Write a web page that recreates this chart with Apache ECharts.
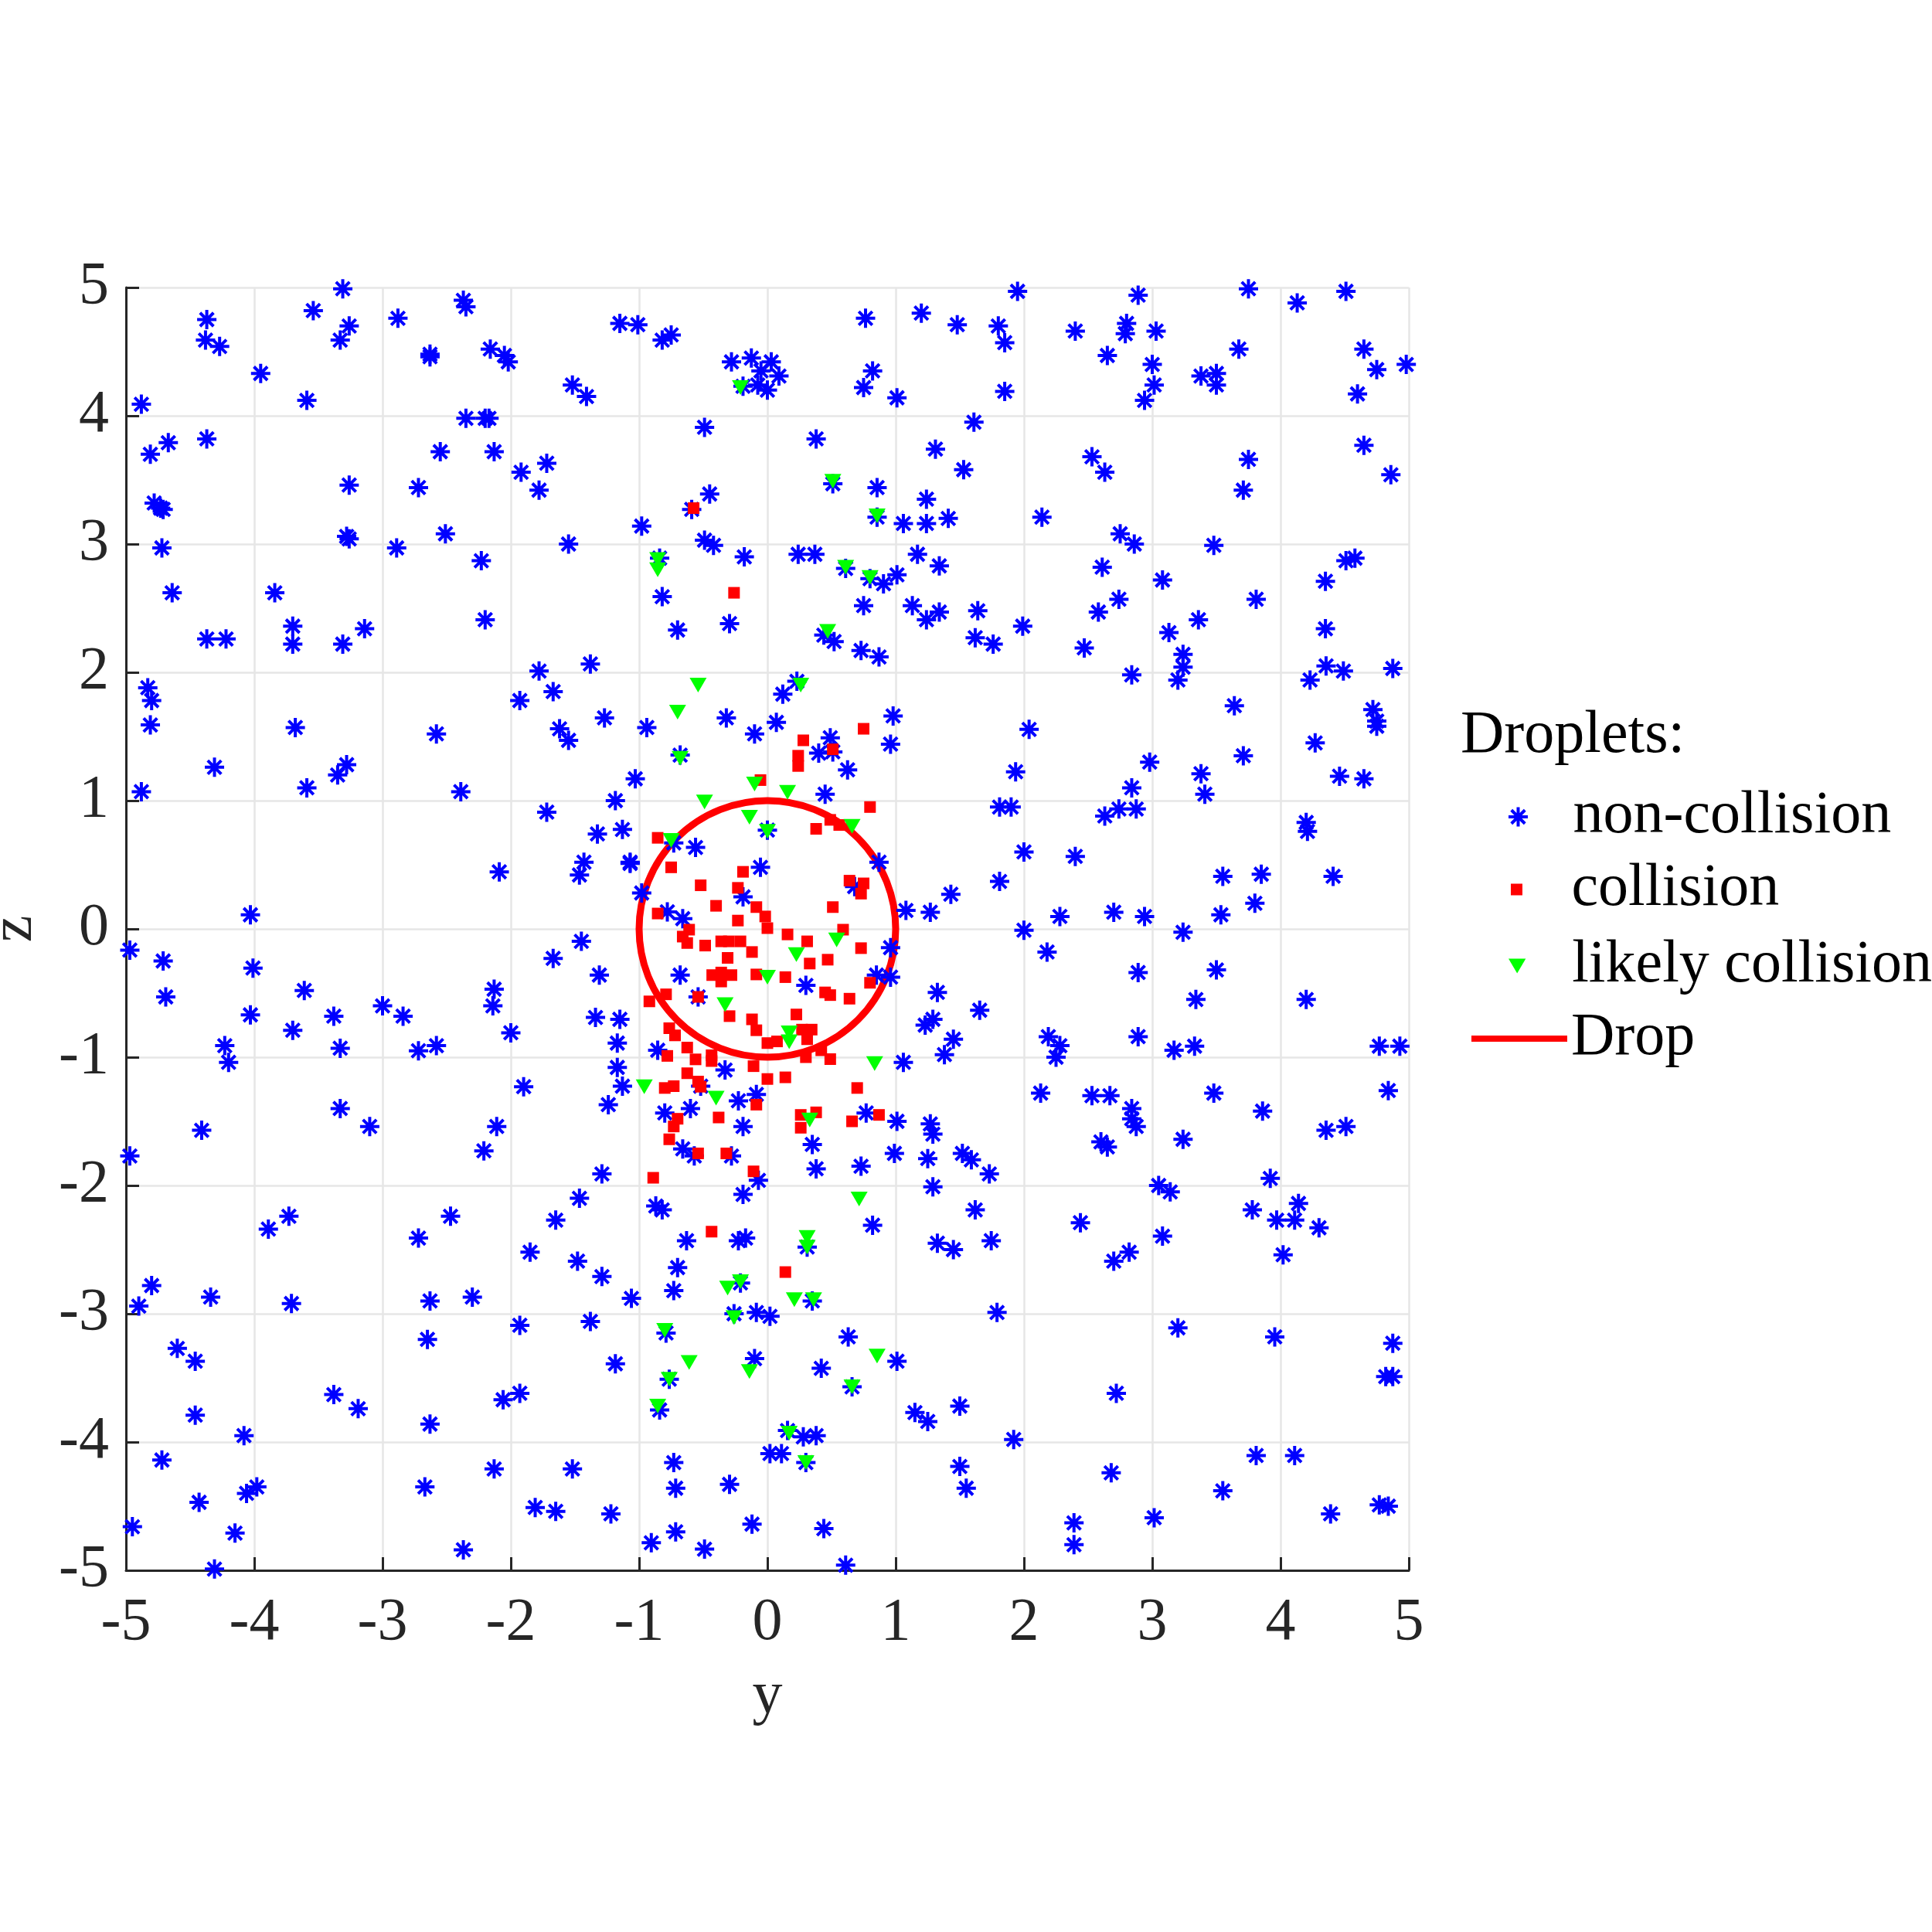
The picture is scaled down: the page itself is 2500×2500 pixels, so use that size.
<!DOCTYPE html>
<html>
<head>
<meta charset="utf-8">
<script src="https://cdn.jsdelivr.net/npm/echarts@6/dist/echarts.min.js"></script>
<style>
html,body{margin:0;padding:0;background:#fff;}
#chart{width:2500px;height:2500px;}
</style>
</head>
<body>
<div id="chart"></div>
<script>
// Axis range
const axisMin = -5, axisMax = 5, axisStep = 1;

// Droplets: [y, z]
const nonCollision = [
[-4.37,4.75],[-4.38,4.59],[-4.27,4.54],[-3.95,4.33],[-4.88,4.09],[-3.59,4.12],[-3.54,4.82],[-3.31,4.99],[-3.26,4.70],[-3.33,4.59],[-2.88,4.76],[-2.63,4.48],[-2.63,4.46],[-2.37,4.90],[-2.35,4.85],[-2.16,4.52],[-2.05,4.47],[-2.02,4.42],[-2.35,3.98],[-2.20,3.98],[-2.17,3.98],[-4.67,3.79],[-4.81,3.70],[-4.37,3.82],[-2.55,3.72],[-2.13,3.72],[-1.92,3.56],[-1.72,3.63],[-1.78,3.42],[-3.26,3.46],[-2.72,3.44],[-4.78,3.32],[-4.73,3.28],[-4.71,3.27],[-3.28,3.06],[-3.26,3.04],[-2.51,3.08],[-2.89,2.97],[-4.72,2.97],[-2.23,2.87],[-4.64,2.62],[-3.84,2.62],[-3.70,2.36],[-3.70,2.22],[-4.37,2.26],[-4.22,2.26],[-3.31,2.22],[-3.14,2.34],[-2.20,2.41],[-1.78,2.01],[-1.93,1.78],[-1.67,1.85],[-4.83,1.88],[-4.80,1.78],
[-4.81,1.59],[-3.68,1.57],[-2.58,1.52],[-4.31,1.26],[-4.88,1.07],[-3.59,1.10],[-3.35,1.20],[-3.28,1.28],[-2.39,1.07],[-1.72,0.91],[-2.09,0.445],[-4.03,0.11],[-4.97,-0.165],[-4.71,-0.25],[-4.01,-0.305],[-4.69,-0.53],[-3.61,-0.48],[-4.03,-0.67],[-3.70,-0.79],[-3.38,-0.68],[-3.33,-0.93],[-3.0,-0.60],[-2.84,-0.68],[-2.72,-0.95],[-2.58,-0.91],[-2.13,-0.47],[-2.14,-0.60],[-2.00,-0.81],[-1.67,-0.23],[-4.23,-0.91],[-4.20,-1.04],[-1.90,-1.23],[-3.33,-1.40],[-3.10,-1.54],[-4.41,-1.57],[-2.11,-1.54],
[-4.97,-1.77],[-2.21,-1.73],[-3.89,-2.34],[-3.73,-2.24],[-2.72,-2.41],[-2.47,-2.24],[-1.85,-2.52],[-1.65,-2.27],[-4.80,-2.78],[-4.90,-2.94],[-4.34,-2.87],[-3.71,-2.92],[-2.63,-2.90],[-2.30,-2.87],[-1.93,-3.09],[-2.65,-3.20],[-4.60,-3.27],[-4.46,-3.37],[-3.38,-3.63],[-3.19,-3.74],[-4.46,-3.79],[-4.08,-3.95],[-2.63,-3.86],[-2.06,-3.67],[-1.93,-3.62],[-4.72,-4.14],[-4.43,-4.47],[-4.06,-4.40],[-3.98,-4.35],[-4.95,-4.66],[-4.15,-4.71],[-4.31,-4.99],[-2.67,-4.35],[-2.13,-4.21],[-2.37,-4.84],[-1.81,-4.51],[-1.65,-4.54],
[-1.15,4.72],[-1.01,4.71],[-0.82,4.59],[-0.75,4.63],[-1.52,4.24],[-1.41,4.15],[-0.28,4.42],[-0.125,4.45],[0.03,4.42],[-0.05,4.35],[0.09,4.31],[-0.075,4.24],[0.0,4.20],[-0.19,4.23],[0.765,4.76],[1.20,4.80],[1.48,4.71],[0.82,4.35],[0.75,4.22],[1.01,4.14],[-0.49,3.91],[0.38,3.82],[1.61,3.95],[1.31,3.74],[1.53,3.58],[0.51,3.47],[0.855,3.44],[1.24,3.35],[-0.45,3.39],[-0.59,3.27],[-0.98,3.14],[0.855,3.21],[1.06,3.16],[1.24,3.16],[1.41,3.20],[-1.55,3.00],[-0.49,3.03],[-0.42,2.99],[-0.18,2.90],[0.24,2.92],[0.37,2.92],[1.17,2.92],[1.34,2.83],[-0.84,2.89],[-0.82,2.59],[0.61,2.81],[0.80,2.73],[0.905,2.69],[1.01,2.76],[0.75,2.52],[1.13,2.52],[1.24,2.41],[1.34,2.47],[1.64,2.48],[1.62,2.27],[-0.70,2.33],[-0.295,2.38],[0.44,2.29],[0.52,2.24],[0.73,2.17],[0.87,2.12],[-1.38,2.065],[0.23,1.93],[0.12,1.83],
[-1.62,1.56],[-1.55,1.47],[-1.27,1.645],[-0.94,1.57],[-0.32,1.645],[-0.10,1.52],[0.07,1.61],[0.98,1.66],[0.96,1.44],[0.49,1.49],[0.40,1.37],[0.51,1.38],[0.625,1.24],[-0.68,1.355],[-1.03,1.17],[0.45,1.05],[-1.185,1.00],[0.0,0.77],[-1.325,0.74],[-1.13,0.775],[-0.73,0.67],[-0.56,0.635],[-1.43,0.52],[-1.465,0.42],[-1.07,0.52],[-1.07,0.51],[0.87,0.52],[-0.054,0.48],[-0.19,0.25],[-0.98,0.28],[0.68,0.33],[1.43,0.27],[1.08,0.144],[1.27,0.13],[-0.78,0.133],[-0.66,0.08],[0.96,-0.146],[-1.45,-0.097],[-1.31,-0.36],[-0.68,-0.36],[0.30,-0.44],[0.85,-0.36],[0.96,-0.376],[-0.54,-0.53],[1.325,-0.495],[1.655,-0.634],[-1.34,-0.69],[-1.15,-0.705],[1.23,-0.75],[1.29,-0.705],[1.45,-0.86],[1.38,-0.98],[-1.17,-0.89],[-0.855,-0.946],[1.06,-1.04],[-1.17,-1.08],[-0.33,-1.10],[-1.13,-1.226],[-0.52,-1.226],[-1.24,-1.37],[-0.80,-1.435],[-0.60,-1.40],[-0.226,-1.34],[-0.086,-1.29],[-0.19,-1.54],[0.77,-1.435],[1.01,-1.50],[1.27,-1.52],[1.29,-1.60],
[-0.66,-1.715],[-0.57,-1.77],[-0.28,-1.77],[-0.07,-1.96],[-1.29,-1.91],[0.35,-1.68],[0.38,-1.87],[0.73,-1.85],[0.99,-1.75],[1.25,-1.79],[1.52,-1.75],[1.59,-1.80],[1.29,-2.01],[1.62,-2.19],[-1.465,-2.10],[-0.87,-2.16],[-0.82,-2.19],[-0.19,-2.07],[0.82,-2.31],[-0.63,-2.43],[-0.226,-2.43],[-0.17,-2.41],[0.31,-2.48],[1.325,-2.45],[1.45,-2.50],[-1.48,-2.59],[-1.29,-2.71],[-0.70,-2.64],[-0.73,-2.82],[-1.06,-2.88],[-0.21,-2.76],[0.35,-2.90],[-1.38,-3.06],[-0.26,-3.00],[-0.086,-2.99],[0.02,-3.02],[-0.79,-3.15],[0.63,-3.18],[-1.185,-3.39],[-0.10,-3.35],[0.42,-3.425],[1.01,-3.37],[-0.765,-3.51],[0.66,-3.57],[-0.84,-3.75],[1.15,-3.77],[1.25,-3.84],[1.50,-3.72],[0.157,-3.91],[0.28,-3.96],[0.38,-3.95],[0.02,-4.09],[0.11,-4.09],[0.30,-4.16],[-1.52,-4.21],[-0.73,-4.16],[-0.715,-4.36],[-0.295,-4.33],[1.50,-4.19],[1.55,-4.36],[-1.22,-4.56],[-0.12,-4.64],[0.44,-4.675],[-0.905,-4.785],[-0.715,-4.70],[-0.49,-4.835],[0.61,-4.96],
[1.95,4.97],[2.89,4.94],[3.75,4.99],[4.51,4.97],[4.13,4.88],[1.80,4.70],[1.85,4.57],[2.40,4.66],[2.80,4.72],[2.79,4.64],[3.03,4.66],[2.65,4.47],[3.00,4.40],[3.015,4.24],[2.94,4.12],[1.85,4.19],[3.38,4.31],[3.50,4.33],[3.50,4.24],[3.675,4.52],[4.65,4.52],[4.75,4.36],[4.98,4.40],[4.60,4.17],[4.65,3.77],[4.86,3.54],[3.75,3.66],[3.71,3.42],[2.53,3.68],[2.63,3.56],[2.14,3.21],[2.75,3.08],[2.86,3.00],[3.48,2.99],[2.61,2.82],[3.08,2.72],[4.51,2.87],[4.58,2.89],[4.35,2.71],[2.74,2.57],[2.58,2.47],[3.81,2.57],[3.36,2.41],[3.13,2.31],[4.35,2.34],[1.99,2.36],[1.76,2.22],[2.47,2.19],[3.24,2.14],[3.24,2.04],[3.20,1.94],[2.84,1.98],[4.23,1.94],[4.355,2.05],[4.49,2.01],[4.875,2.03],[3.64,1.74],[4.72,1.71],
[4.75,1.62],[4.75,1.58],[2.04,1.555],[1.935,1.225],[2.98,1.30],[2.84,1.10],[3.38,1.21],[3.41,1.05],[3.71,1.35],[4.27,1.45],[4.46,1.19],[4.65,1.17],[1.81,0.95],[1.90,0.95],[2.63,0.88],[2.74,0.935],[2.875,0.935],[4.20,0.83],[4.21,0.76],[2.00,0.60],[2.40,0.565],[1.81,0.37],[3.55,0.41],[3.85,0.426],[4.41,0.41],[3.80,0.20],[3.535,0.11],[2.28,0.097],[2.70,0.13],[2.94,0.097],[2.00,-0.01],[3.24,-0.026],[2.18,-0.18],[2.89,-0.34],[3.50,-0.32],[3.34,-0.55],[4.20,-0.55],[2.89,-0.84],[2.19,-0.84],[2.28,-0.91],[2.25,-1.0],[3.17,-0.946],[3.33,-0.914],[4.77,-0.914],[4.93,-0.914],[2.13,-1.28],[2.53,-1.30],[2.67,-1.30],[2.84,-1.40],[2.84,-1.48],[2.875,-1.54],[3.48,-1.28],[3.86,-1.42],[4.84,-1.26],[4.355,-1.57],[4.51,-1.54],
[2.60,-1.66],[2.65,-1.70],[3.24,-1.64],[1.73,-1.91],[1.745,-2.43],[2.44,-2.29],[2.70,-2.59],[2.82,-2.52],[3.05,-2.00],[3.14,-2.05],[3.08,-2.395],[3.92,-1.945],[3.78,-2.19],[3.97,-2.27],[4.11,-2.27],[4.14,-2.14],[4.30,-2.33],[4.02,-2.54],[1.79,-2.99],[3.20,-3.11],[3.955,-3.18],[4.875,-3.23],[4.82,-3.49],[4.875,-3.49],[2.72,-3.62],[1.92,-3.98],[3.81,-4.105],[4.11,-4.105],[2.68,-4.24],[3.55,-4.38],[2.39,-4.63],[2.39,-4.80],[3.015,-4.59],[4.39,-4.56],[4.77,-4.49],[4.84,-4.50]
];

const collision = [
[-0.575,3.28],[-0.26,2.62],
[0.75,1.56],[0.28,1.47],[0.51,1.40],[0.24,1.35],[0.24,1.27],[-0.054,1.16],[0.80,0.95],[0.49,0.85],[0.56,0.81],[0.38,0.78],[-0.855,0.71],[-0.75,0.48],[-0.19,0.445],[-0.52,0.34],[-0.23,0.32],[0.64,0.376],[0.75,0.355],[0.73,0.275],[-0.40,0.18],[-0.086,0.17],[-0.017,0.097],[0.0,0.006],[0.51,0.17],[-0.855,0.12],[-0.23,0.065],[-0.61,-0.006],[-0.66,-0.06],[-0.625,-0.11],[0.157,-0.043],[-0.485,-0.13],[-0.36,-0.097],[-0.30,-0.097],[-0.21,-0.097],[0.31,-0.097],[0.59,-0.006],[-0.12,-0.18],[0.73,-0.15],[-0.31,-0.226],[0.33,-0.27],[0.47,-0.24],[-0.43,-0.36],[-0.36,-0.34],[-0.36,-0.41],[-0.28,-0.36],[-0.086,-0.355],[0.14,-0.376],[0.80,-0.42],[-0.79,-0.51],[-0.92,-0.565],[-0.54,-0.53],[0.45,-0.495],[0.49,-0.516],[0.64,-0.544],[-0.295,-0.68],[-0.12,-0.705],[-0.086,-0.79],[0.226,-0.667],[0.27,-0.785],[0.345,-0.785],[0.31,-0.86],[-0.765,-0.774],[-0.72,-0.83],[0.0,-0.89],[0.075,-0.877],[-0.625,-0.925],[-0.78,-0.99],[-0.56,-1.017],[-0.435,-0.985],[-0.435,-1.03],[0.30,-1.0],[0.42,-0.946],[0.49,-1.015],[-0.108,-1.07],[-0.625,-1.125],[-0.80,-1.24],[-0.73,-1.226],[-0.54,-1.19],[-0.52,-1.23],[0.0,-1.17],[0.14,-1.157],[0.70,-1.24],[-0.086,-1.37],[-0.38,-1.47],[-0.70,-1.48],[-0.73,-1.54],[-0.765,-1.64],[0.26,-1.45],[0.38,-1.43],[0.26,-1.55],[0.66,-1.50],[0.87,-1.45],
[-0.54,-1.75],[-0.32,-1.75],[-0.108,-1.89],[-0.89,-1.94],[-0.435,-2.36],[0.14,-2.675]
];

const likelyCollision = [
[-0.21,4.22],[0.51,3.49],[0.855,3.22],[-0.855,2.88],[-0.855,2.80],[0.61,2.82],[0.80,2.74],[0.47,2.32],[-0.54,1.90],[0.26,1.90],
[-0.70,1.69],[-0.68,1.33],[-0.10,1.13],[0.157,1.065],[-0.49,0.99],[-0.14,0.87],[0.0,0.76],[0.66,0.80],[-0.75,0.69],[0.54,-0.086],[0.226,-0.20],[0.0,-0.376],[-0.33,-0.59],[0.17,-0.81],[0.17,-0.88],[0.836,-1.05],[-0.96,-1.23],[-0.40,-1.32],[0.33,-1.49],
[0.715,-2.105],[0.31,-2.405],[0.31,-2.48],[-0.31,-2.80],[-0.21,-2.75],[0.21,-2.89],[0.36,-2.89],[-0.26,-3.03],[-0.80,-3.13],[-0.61,-3.38],[-0.14,-3.45],[0.855,-3.33],[-0.765,-3.51],[0.66,-3.57],[-0.855,-3.72],[0.17,-3.93],[0.30,-4.16]
];

// Drop: [centre y, centre z, radius]
const drop = [[0, 0, 1]];

const FONT = 'Liberation Serif';
const FS = 78;
const STAR = 'path://M0,-10L0,10M-10,0L10,0M-7,-7L7,7M-7,7L7,-7';
const SQUARE = 'path://M0,0L10,0L10,10L0,10Z';
const TRI_DOWN = 'path://M0,0L20,0L10,17Z';

function axisCommon(name, gap, labelMargin) {
  return {
    type: 'value', min: axisMin, max: axisMax, interval: axisStep,
    name: name, nameLocation: 'middle', nameGap: gap,
    nameTextStyle: { fontFamily: FONT, fontSize: FS, color: '#262626' },
    axisLine: { show: true, onZero: false, lineStyle: { color: '#262626', width: 3 } },
    axisTick: { show: true, inside: true, length: 17, lineStyle: { color: '#262626', width: 3 } },
    axisLabel: { fontFamily: FONT, fontSize: FS, color: '#262626', margin: labelMargin },
    splitLine: { show: true, lineStyle: { color: '#e6e6e6', width: 2.5 } }
  };
}

const legendText = { fontFamily: FONT, fontSize: FS, color: '#000' };
function legendAt(name, left, top, w, h, extra) {
  return Object.assign({
    data: [name], left: left, top: top, orient: 'vertical', padding: 0,
    itemWidth: w, itemHeight: h, selectedMode: false, textStyle: legendText
  }, extra || {});
}

const chart = echarts.init(document.getElementById('chart'));
chart.setOption({
  animation: false,
  backgroundColor: '#ffffff',
  title: {
    text: 'Droplets:', left: 1890, top: 914, padding: 0,
    textStyle: { fontFamily: FONT, fontSize: FS, fontWeight: 'normal', color: '#000' }
  },
  legend: [
    legendAt('non-collision', 1950, 1018, 132, 25, { itemStyle: { borderWidth: 4, opacity: 1 } }),
    legendAt('collision', 1955, 1112, 132, 15, { itemStyle: { opacity: 1 } }),
    legendAt('likely collision', 1952, 1211, 132, 19, { itemStyle: { opacity: 1 } }),
    legendAt({ name: 'Drop', icon: 'rect' }, 1904, 1305, 124, 8, { itemStyle: { color: '#ff0000', opacity: 1 } })
  ],
  grid: { left: 163, top: 372, width: 1660, height: 1660, containLabel: false, outerBoundsMode: 'none' },
  xAxis: axisCommon('y', 125, 30),
  yAxis: axisCommon('z', 104, 22),
  series: [
    {
      name: 'non-collision', type: 'scatter', data: nonCollision,
      symbol: STAR, symbolSize: 25,
      itemStyle: { color: '#0000ff', borderColor: '#0000ff', borderWidth: 4, opacity: 1 }
    },
    {
      name: 'collision', type: 'scatter', data: collision,
      symbol: SQUARE, symbolSize: 15,
      itemStyle: { color: '#ff0000', opacity: 1 }
    },
    {
      name: 'likely collision', type: 'scatter', data: likelyCollision,
      symbol: TRI_DOWN, symbolSize: [22, 19],
      itemStyle: { color: '#00ff00', opacity: 1 }
    },
    {
      name: 'Drop', type: 'custom', data: drop,
      encode: { x: 0, y: 1 },
      itemStyle: { color: '#ff0000' },
      renderItem: function (params, api) {
        const c = api.coord([api.value(0), api.value(1)]);
        const s = api.size([api.value(2), api.value(2)]);
        return {
          type: 'circle',
          shape: { cx: c[0], cy: c[1], r: s[0] },
          style: { fill: 'none', stroke: '#ff0000', lineWidth: 9 }
        };
      }
    }
  ]
});
</script>
</body>
</html>
